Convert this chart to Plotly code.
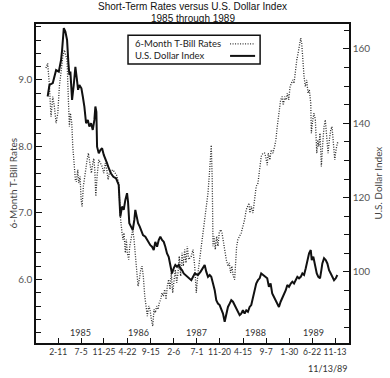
import pandas as pd
import plotly.graph_objects as go

# ---------------- data (decimal years) ----------------
usd_years = [1984.935, 1984.966, 1985.021, 1985.078, 1985.124, 1985.163, 1985.181, 1985.210, 1985.237, 1985.266,
             1985.289, 1985.306, 1985.323, 1985.352, 1985.381, 1985.409, 1985.433, 1985.455, 1985.477, 1985.512,
             1985.536, 1985.563, 1985.592, 1985.622, 1985.649, 1985.678, 1985.707, 1985.735, 1985.752, 1985.769,
             1985.781, 1985.810, 1985.838, 1985.867, 1985.896, 1985.923, 1985.953, 1985.982, 1986.021, 1986.061,
             1986.107, 1986.153, 1986.181, 1986.210, 1986.239, 1986.267, 1986.296, 1986.313, 1986.335, 1986.364,
             1986.394, 1986.421, 1986.438, 1986.462, 1986.485, 1986.514, 1986.541, 1986.570, 1986.610, 1986.639,
             1986.668, 1986.696, 1986.725, 1986.754, 1986.781, 1986.811, 1986.840, 1986.867, 1986.896, 1986.926,
             1986.953, 1986.982, 1987.011, 1987.039, 1987.068, 1987.097, 1987.125, 1987.154, 1987.183, 1987.210,
             1987.240, 1987.269, 1987.296, 1987.325, 1987.354, 1987.399, 1987.458, 1987.514, 1987.560, 1987.600,
             1987.629, 1987.656, 1987.686, 1987.715, 1987.742, 1987.772, 1987.801, 1987.828, 1987.857, 1987.886,
             1987.914, 1987.943, 1987.972, 1988.000, 1988.029, 1988.058, 1988.086, 1988.115, 1988.144, 1988.171,
             1988.200, 1988.230, 1988.257, 1988.286, 1988.315, 1988.343, 1988.372, 1988.401, 1988.429, 1988.458,
             1988.487, 1988.514, 1988.544, 1988.573, 1988.600, 1988.629, 1988.703, 1988.732, 1988.761, 1988.789,
             1988.818, 1988.847, 1988.875, 1988.904, 1988.933, 1988.960, 1988.990, 1989.019, 1989.046, 1989.075,
             1989.105, 1989.132, 1989.161, 1989.190, 1989.218, 1989.247, 1989.276, 1989.304, 1989.333, 1989.362,
             1989.389, 1989.419, 1989.448, 1989.465, 1989.492, 1989.522, 1989.551, 1989.578, 1989.607, 1989.630,
             1989.647, 1989.676, 1989.705, 1989.733, 1989.762, 1989.791, 1989.818, 1989.848, 1989.877, 1989.904]
usd_index = [147.2, 150.3, 150.8, 154.3, 153.9, 157.0, 159.7, 165.6, 164.7, 162.4,
             156.2, 153.0, 153.9, 146.3, 150.3, 155.2, 152.1, 149.0, 150.3, 149.4,
             147.2, 144.5, 140.0, 140.9, 139.1, 140.0, 138.2, 140.9, 144.5, 143.1,
             133.7, 131.9, 132.8, 133.3, 131.5, 130.1, 129.2, 127.9, 126.5, 125.6,
             125.2, 123.4, 114.9, 117.6, 116.7, 119.4, 121.2, 118.9, 113.1, 112.2,
             111.3, 114.0, 116.7, 114.9, 113.1, 112.2, 111.3, 109.9, 109.5, 108.6,
             108.1, 107.2, 106.8, 105.9, 108.1, 106.8, 108.6, 109.5, 108.6, 108.1,
             106.8, 105.0, 104.1, 101.4, 99.6, 101.0, 101.9, 101.4, 101.9, 101.0,
             100.5, 99.6, 99.2, 98.7, 98.5, 97.8, 99.6, 99.2, 100.1, 101.0,
             101.9, 100.1, 98.7, 99.2, 98.7, 96.9, 95.1, 92.4, 91.5, 91.1,
             89.7, 88.8, 86.6, 88.8, 90.6, 91.5, 92.4, 92.0, 91.1, 90.2,
             89.3, 88.4, 88.8, 89.7, 88.8, 89.7, 89.3, 90.6, 91.1, 92.9,
             95.1, 96.9, 97.8, 98.3, 99.6, 99.2, 98.3, 96.0, 96.9, 94.2,
             93.3, 92.4, 91.5, 90.6, 92.0, 92.9, 94.2, 95.1, 96.5, 96.0,
             96.9, 97.4, 96.9, 97.8, 98.7, 98.3, 98.7, 99.6, 99.2, 101.0,
             103.2, 105.0, 105.9, 103.2, 104.1, 101.9, 99.6, 98.7, 98.3, 100.5,
             102.3, 103.7, 103.2, 102.3, 100.5, 99.6, 98.7, 97.8, 98.3, 99.2]

tbill_years = [1984.906, 1984.935, 1984.963, 1984.992, 1985.021, 1985.048, 1985.078, 1985.107, 1985.134, 1985.163,
               1985.193, 1985.220, 1985.266, 1985.289, 1985.306, 1985.323, 1985.347, 1985.364, 1985.392, 1985.409,
               1985.426, 1985.450, 1985.467, 1985.489, 1985.507, 1985.524, 1985.546, 1985.580, 1985.610, 1985.632,
               1985.661, 1985.683, 1985.707, 1985.725, 1985.742, 1985.759, 1985.781, 1985.810, 1985.838, 1985.867,
               1985.896, 1985.923, 1985.948, 1985.970, 1985.992, 1986.021, 1986.051, 1986.078, 1986.116, 1986.153,
               1986.181, 1986.210, 1986.227, 1986.244, 1986.267, 1986.284, 1986.301, 1986.325, 1986.342, 1986.364,
               1986.394, 1986.416, 1986.438, 1986.462, 1986.485, 1986.507, 1986.531, 1986.553, 1986.575, 1986.600,
               1986.622, 1986.644, 1986.668, 1986.690, 1986.713, 1986.737, 1986.759, 1986.781, 1986.805, 1986.828,
               1986.850, 1986.874, 1986.896, 1986.919, 1986.943, 1986.965, 1986.987, 1987.011, 1987.034, 1987.056,
               1987.080, 1987.102, 1987.125, 1987.149, 1987.171, 1987.193, 1987.217, 1987.240, 1987.262, 1987.286,
               1987.308, 1987.331, 1987.354, 1987.399, 1987.428, 1987.458, 1987.485, 1987.514, 1987.543, 1987.571,
               1987.600, 1987.629, 1987.656, 1987.686, 1987.715, 1987.732, 1987.742, 1987.759, 1987.772, 1987.789,
               1987.811, 1987.835, 1987.857, 1987.879, 1987.904, 1987.926, 1987.948, 1987.972, 1988.000, 1988.029,
               1988.051, 1988.075, 1988.097, 1988.120, 1988.144, 1988.161, 1988.178, 1988.200, 1988.230, 1988.257,
               1988.286, 1988.315, 1988.343, 1988.372, 1988.389, 1988.406, 1988.429, 1988.458, 1988.487, 1988.514,
               1988.544, 1988.573, 1988.600, 1988.629, 1988.658, 1988.676, 1988.703, 1988.720, 1988.749, 1988.772,
               1988.801, 1988.830, 1988.852, 1988.875, 1988.904, 1988.933, 1988.960, 1988.978, 1989.002, 1989.024,
               1989.046, 1989.070, 1989.093, 1989.115, 1989.139, 1989.161, 1989.184, 1989.208, 1989.230, 1989.252,
               1989.276, 1989.293, 1989.310, 1989.333, 1989.355, 1989.379, 1989.401, 1989.424, 1989.448, 1989.458,
               1989.482, 1989.504, 1989.527, 1989.551, 1989.568, 1989.585, 1989.607, 1989.630, 1989.654, 1989.676,
               1989.698, 1989.722, 1989.745, 1989.767, 1989.791, 1989.813, 1989.836, 1989.860, 1989.882, 1989.904,
               1989.933]
tbill_rate = [9.18, 9.25, 8.95, 8.45, 8.75, 8.60, 8.35, 8.50, 8.90, 9.15,
              9.35, 9.45, 9.30, 8.70, 8.30, 8.50, 8.35, 8.00, 7.70, 7.50,
              7.47, 7.65, 7.45, 7.55, 7.20, 7.10, 7.40, 7.65, 7.80, 7.90,
              7.70, 7.60, 7.75, 7.82, 7.65, 7.25, 7.55, 7.80, 7.75, 7.70,
              7.60, 7.75, 7.65, 7.50, 7.60, 7.62, 7.65, 7.62, 7.57, 7.45,
              6.95, 6.70, 6.60, 6.70, 6.40, 6.60, 6.40, 6.30, 6.50, 6.60,
              6.75, 6.60, 6.40, 6.10, 5.90, 6.00, 6.15, 6.20, 6.05, 5.75,
              5.55, 5.45, 5.60, 5.55, 5.40, 5.30, 5.55, 5.50, 5.60, 5.55,
              5.65, 5.70, 5.80, 5.75, 5.85, 5.70, 5.90, 6.00, 5.85, 6.10,
              5.80, 6.00, 6.15, 5.95, 6.10, 6.35, 6.05, 6.40, 6.20, 6.45,
              6.25, 6.50, 6.30, 6.35, 6.45, 6.20, 5.80, 6.10, 6.30, 6.50,
              6.70, 6.90, 7.10, 7.30, 7.65, 8.00, 8.02, 7.50, 6.50, 6.65,
              6.45, 6.65, 6.50, 6.70, 6.75, 6.70, 6.60, 6.45, 6.30, 6.20,
              6.25, 6.10, 6.20, 6.05, 6.00, 6.40, 6.50, 6.60, 6.65, 6.70,
              6.80, 6.90, 7.05, 7.10, 7.15, 7.00, 7.10, 7.00, 7.20, 7.40,
              7.45, 7.70, 7.85, 7.90, 7.90, 7.85, 7.72, 7.90, 7.80, 7.95,
              7.90, 8.00, 8.10, 8.30, 8.50, 8.70, 8.75, 8.62, 8.75, 8.70,
              8.80, 8.70, 8.90, 8.95, 9.00, 8.95, 9.15, 9.30, 9.40, 9.55,
              9.63, 9.55, 9.30, 9.05, 8.90, 9.00, 8.80, 8.85, 8.65, 8.20,
              8.40, 8.50, 8.40, 7.90, 8.10, 8.00, 8.20, 7.70, 8.05, 8.30,
              8.40, 8.15, 7.90, 8.10, 8.25, 8.30, 8.10, 7.80, 7.95, 8.05,
              8.07]

tick_dates = ["1985-02-11", "1985-07-05", "1985-11-25", "1986-04-22", "1986-09-15", "1987-02-06",
              "1987-07-01", "1987-11-20", "1988-04-15", "1988-09-07", "1989-01-30", "1989-06-22", "1989-11-13"]
tick_labels = ["2-11", "7-5", "11-25", "4-22", "9-15", "2-6", "7-1", "11-20", "4-15", "9-7", "1-30", "6-22", "11-13"]
year_labels = ["1985", "1986", "1987", "1988", "1989"]
rate_ticks = [6.0, 7.0, 8.0, 9.0]
index_ticks = [100, 120, 140, 160]


def to_date(d):
    y = int(d)
    return pd.Timestamp(y, 1, 1) + pd.Timedelta(days=(d - y) * 365.25)


usd_dates = [to_date(v) for v in usd_years]
tbill_dates = [to_date(v) for v in tbill_years]

FONT = "Lato"
fig = go.Figure()
fig.add_trace(go.Scatter(x=tbill_dates, y=tbill_rate, mode="lines", name="6-Month T-Bill Rates",
                         line=dict(color="#2a2a2a", width=1.3, dash="1px,1.5px"), yaxis="y"))
fig.add_trace(go.Scatter(x=usd_dates, y=usd_index, mode="lines", name="U.S. Dollar Index",
                         line=dict(color="#111111", width=2.0), yaxis="y2"))

annotations = [
    dict(text="Short-Term Rates versus U.S. Dollar Index", x=0.5, y=1.0, xref="paper", yref="paper",
         xanchor="center", yanchor="middle", yshift=18, showarrow=False,
         font=dict(family="Liberation Sans", size=10, color="#111")),
    dict(text="1985 through 1989", x=0.5, y=1.0, xref="paper", yref="paper",
         xanchor="center", yanchor="middle", yshift=6, showarrow=False,
         font=dict(family="Liberation Sans", size=10, color="#111")),
    dict(text="11/13/89", x=1.0, y=0, xref="paper", yref="paper",
         xanchor="right", yanchor="middle", yshift=-25, showarrow=False,
         font=dict(family=FONT, size=9, color="#333")),
    dict(text="6-Month T-Bill Rates", x=0, y=0.5, xref="paper", yref="paper", xanchor="center",
         yanchor="middle", xshift=-24, textangle=-90, showarrow=False,
         font=dict(family=FONT, size=10, color="#444")),
    dict(text="U.S. Dollar Index", x=1, y=0.5, xref="paper", yref="paper", xanchor="center",
         yanchor="middle", xshift=28, textangle=-90, showarrow=False,
         font=dict(family=FONT, size=10, color="#444")),
]
for yl in year_labels:
    annotations.append(dict(text=yl, x=pd.Timestamp(int(yl), 7, 1), y=0, xref="x", yref="paper",
                            xanchor="center", yanchor="middle", yshift=11, showarrow=False,
                            font=dict(family=FONT, size=9, color="#333")))

# legend (custom, text left, sample line right)
annotations += [
    dict(text="6-Month T-Bill Rates", x=0.31, y=0.938, xref="paper", yref="paper", xanchor="left",
         yanchor="middle", showarrow=False, font=dict(family=FONT, size=9.5, color="#222")),
    dict(text="U.S. Dollar Index", x=0.31, y=0.900, xref="paper", yref="paper", xanchor="left",
         yanchor="middle", showarrow=False, font=dict(family=FONT, size=9.5, color="#222")),
]
shapes = [
    dict(type="rect", xref="paper", yref="paper", x0=0.294, x1=0.716, y0=0.875, y1=0.965,
         line=dict(color="#111", width=1.5), fillcolor="white", layer="below"),
    dict(type="line", xref="paper", yref="paper", x0=0.62, x1=0.70, y0=0.938, y1=0.938,
         line=dict(color="#333", width=1.2, dash="1px,1.5px")),
    dict(type="line", xref="paper", yref="paper", x0=0.62, x1=0.70, y0=0.900, y1=0.900,
         line=dict(color="#111", width=2)),
]

fig.update_layout(
    width=390, height=378,
    margin=dict(l=36, r=41, t=24, b=35),
    paper_bgcolor="white", plot_bgcolor="white",
    showlegend=False,
    annotations=annotations, shapes=shapes,
    xaxis=dict(type="date", range=[to_date(1984.735), to_date(1990.105)], automargin=False,
               tickvals=tick_dates, ticktext=tick_labels, tickangle=0, ticks="inside", ticklen=5,
               tickcolor="#111", showgrid=False, zeroline=False, showline=True, linecolor="#111",
               linewidth=1.5, mirror=True, tickfont=dict(family=FONT, size=8.5, color="#333")),
    yaxis=dict(range=[5.045, 9.842], tickvals=rate_ticks, tickformat=".1f", ticks="inside", ticklen=6,
               automargin=False, tickcolor="#111", showgrid=False, zeroline=False, showline=True,
               linecolor="#111", linewidth=1.5, tickfont=dict(family=FONT, size=10, color="#555"),
               minor=dict(dtick=0.2, ticks="inside", ticklen=5, tickcolor="#111", showgrid=False)),
    yaxis2=dict(range=[80.9, 166.7], overlaying="y", side="right", tickvals=index_ticks, ticks="inside",
                automargin=False, ticklen=6, tickcolor="#111", showgrid=False, zeroline=False,
                showline=True, linecolor="#111", linewidth=1.5,
                tickfont=dict(family=FONT, size=10, color="#555"),
                minor=dict(dtick=5, ticks="inside", ticklen=5, tickcolor="#111", showgrid=False)),
)

fig.write_html("out.html", config={"displayModeBar": False},
               post_script="document.body.style.margin='0';document.body.style.overflow='hidden';")
